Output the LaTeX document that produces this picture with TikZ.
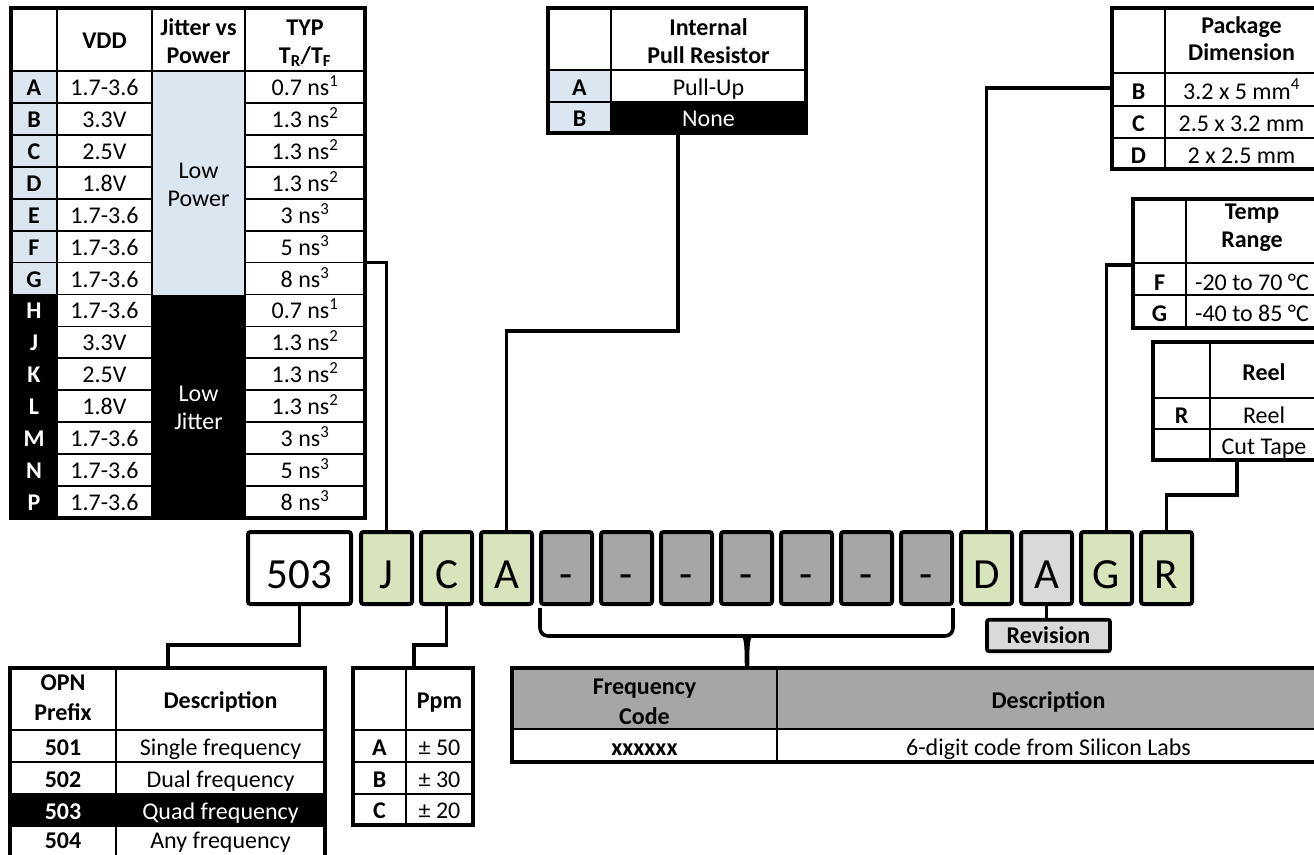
\documentclass[tikz,border=0pt]{standalone}
\usepackage{fontspec}
\setmainfont{Carlito}
\definecolor{lblue}{HTML}{DCE6F1}
\definecolor{lgreen}{HTML}{D8E4BC}
\definecolor{dgray}{HTML}{A6A6A6}
\definecolor{lgray}{HTML}{D9D9D9}
\begin{document}
\begin{tikzpicture}[x=1pt,y=-1pt,
 inl/.style={line width=1.8pt},
 outl/.style={line width=3.4pt},
 txt/.style={font=\fontsize{24}{28}\selectfont, inner sep=0pt, anchor=base},
 btxt/.style={font=\fontsize{24}{28}\selectfont\bfseries, inner sep=0pt, anchor=base},
 wtxt/.style={txt, text=white},
 wbtxt/.style={btxt, text=white},
 pbox/.style={draw, line width=4pt, rounded corners=2.5pt, minimum width=51pt, minimum height=72pt, inner sep=0pt, text height=40pt, text depth=0pt, font=\fontsize{43}{48}\selectfont},
 conn/.style={line width=3.6pt},
]
\clip (0,0) rectangle (1314,854);
\fill[white] (0,0) rectangle (1314,854);

% ---------- Table 1: VDD ----------
\fill[lblue] (11,71) rectangle (57,294.5);
\fill[black] (11,294.5) rectangle (57,518);
\fill[lblue] (152,71) rectangle (245,294.5);
\fill[black] (152,294.5) rectangle (245,518);
\foreach \k in {1,...,13}{
  \draw[inl] (11,{71+\k*31.93}) -- (152,{71+\k*31.93}) (245,{71+\k*31.93}) -- (365,{71+\k*31.93});
}
\draw[inl] (11,71) -- (365,71) (57,8) -- (57,518) (152,8) -- (152,518) (245,8) -- (245,518);
\draw[outl] (11,8) rectangle (365,518);
\node[btxt] (h1v) at (104.5,48) {VDD};
\node[btxt] (h1ja) at (198.5,35) {Jitter vs};
\node[btxt] (h1jb) at (198.5,63) {Power};
\node[btxt] (h1ta) at (305,35) {TYP};
\node[btxt] (h1tb) at (305,63) {T\textsubscript{R}/T\textsubscript{F}};
\foreach \lab/\vdd/\tr [count=\i from 0] in {
 A/1.7-3.6/0.7 ns\textsuperscript{1}, B/3.3V/1.3 ns\textsuperscript{2}, C/2.5V/1.3 ns\textsuperscript{2},
 D/1.8V/1.3 ns\textsuperscript{2}, E/1.7-3.6/3 ns\textsuperscript{3}, F/1.7-3.6/5 ns\textsuperscript{3},
 G/1.7-3.6/8 ns\textsuperscript{3}, H/1.7-3.6/0.7 ns\textsuperscript{1}, J/3.3V/1.3 ns\textsuperscript{2},
 K/2.5V/1.3 ns\textsuperscript{2}, L/1.8V/1.3 ns\textsuperscript{2}, M/1.7-3.6/3 ns\textsuperscript{3},
 N/1.7-3.6/5 ns\textsuperscript{3}, P/1.7-3.6/8 ns\textsuperscript{3}}{
  \pgfmathsetmacro\yb{71+(\i+0.5)*31.93+8.5}
  \node[btxt] (t1l\i) at (34,\yb) {\ifnum\i>6\color{white}\fi\lab};
  \node[txt] (t1v\i) at (104.5,\yb) {\vdd};
  \node[txt] (t1t\i) at (305,\yb) {\tr};
}
\node[txt] (lpa) at (198.5,178) {Low};
\node[txt] (lpb) at (198.5,206) {Power};
\node[wtxt] (lja) at (198.5,401) {Low};
\node[wtxt] (ljb) at (198.5,429) {Jitter};

% ---------- Table 2: Pull resistor ----------
\fill[lblue] (548,70) rectangle (611,133);
\fill[black] (611,102) rectangle (806,133);
\draw[inl] (611,8) -- (611,133) (548,70) -- (806,70) (548,102) -- (806,102);
\draw[outl] (548,8) rectangle (806,133);
\node[btxt] (h2a) at (708.5,35) {Internal};
\node[btxt] (h2b) at (708.5,63) {Pull Resistor};
\node[btxt] (t2l1) at (579.5,95) {A};
\node[txt] (t2v1) at (708.5,95) {Pull-Up};
\node[btxt] (t2l2) at (579.5,126) {B};
\node[wtxt] (t2v2) at (708.5,126) {None};

% ---------- Table 3: Package ----------
\draw[inl] (1165,8) -- (1165,169) (1112,73) -- (1318,73) (1112,106) -- (1318,106) (1112,138) -- (1318,138);
\draw[outl] (1112,8) rectangle (1318,169);
\node[btxt] (h3a) at (1241.5,33) {Package};
\node[btxt] (h3b) at (1241.5,60) {Dimension};
\node[btxt] (t3l1) at (1138.5,99) {B};
\node[txt] (t3v1) at (1241.5,99) {3.2 x 5 mm\textsuperscript{4}};
\node[btxt] (t3l2) at (1138.5,131.5) {C};
\node[txt] (t3v2) at (1241.5,131.5) {2.5 x 3.2 mm};
\node[btxt] (t3l3) at (1138.5,163) {D};
\node[txt] (t3v3) at (1241.5,163) {2 x 2.5 mm};

% ---------- Table 4: Temp ----------
\fill[white] (1133,199) rectangle (1318,328);
\draw[inl] (1186,199) -- (1186,328) (1133,263) -- (1318,263) (1133,295) -- (1318,295);
\draw[outl] (1133,199) rectangle (1318,328);
\node[btxt] (h4a) at (1252,219) {Temp};
\node[btxt] (h4b) at (1252,247) {Range};
\node[btxt] (t4l1) at (1159.5,290) {F};
\node[txt] (t4v1) at (1252,290) {-20 to 70 °C};
\node[btxt] (t4l2) at (1159.5,321) {G};
\node[txt] (t4v2) at (1252,321) {-40 to 85 °C};

% ---------- Table 5: Reel ----------
\draw[inl] (1210,342) -- (1210,460) (1153,398) -- (1318,398) (1153,429) -- (1318,429);
\draw[outl] (1153,342) rectangle (1318,460);
\node[btxt] (h5) at (1264,380) {Reel};
\node[btxt] (t5l1) at (1181.5,423) {R};
\node[txt] (t5v1) at (1264,423) {Reel};
\node[txt] (t5v2) at (1264,454) {Cut Tape};

% ---------- Table 6: OPN ----------
\fill[black] (10,794) rectangle (325,826);
\draw[inl] (116,668) -- (116,858) (10,730) -- (325,730) (10,762) -- (325,762) (10,794) -- (325,794) (10,826) -- (325,826);
\draw[outl] (10,668) rectangle (325,858);
\node[btxt] (h6a) at (63,690) {OPN};
\node[btxt] (h6b) at (63,720) {Prefix};
\node[btxt] (h6c) at (220.5,708) {Description};
\node[btxt] (t6l1) at (63,755.5) {501};
\node[txt] (t6v1) at (220.5,755.5) {Single frequency};
\node[btxt] (t6l2) at (63,787.5) {502};
\node[txt] (t6v2) at (220.5,787.5) {Dual frequency};
\node[wbtxt] (t6l3) at (63,819.5) {503};
\node[wtxt] (t6v3) at (220.5,819.5) {Quad frequency};
\node[btxt] (t6l4) at (63,848) {504};
\node[txt] (t6v4) at (220.5,848) {Any frequency};

% ---------- Table 7: Ppm ----------
\draw[inl] (406,668) -- (406,825) (353,730) -- (473,730) (353,762) -- (473,762) (353,794) -- (473,794);
\draw[outl] (353,668) rectangle (473,825);
\node[btxt] (h7) at (439.5,708) {Ppm};
\node[btxt] (t7l1) at (379.5,755) {A};
\node[txt] (t7v1) at (439.5,755) {± 50};
\node[btxt] (t7l2) at (379.5,787) {B};
\node[txt] (t7v2) at (439.5,787) {± 30};
\node[btxt] (t7l3) at (379.5,818.5) {C};
\node[txt] (t7v3) at (439.5,818.5) {± 20};

% ---------- Table 8: Frequency code ----------
\fill[dgray] (512,668) rectangle (1320,729);
\draw[inl] (777,668) -- (777,762) (512,729) -- (1320,729);
\draw[outl] (512,668) rectangle (1320,762);
\node[btxt] (h8a) at (644.5,694) {Frequency};
\node[btxt] (h8b) at (644.5,724) {Code};
\node[btxt] (h8c) at (1048.5,708) {Description};
\node[btxt] (t8l1) at (644.5,755) {xxxxxx};
\node[txt] (t8v1) at (1048.5,755) {6-digit code from Silicon Labs};

% ---------- Part number boxes ----------
\node[pbox, fill=white, minimum width=103pt] (b503) at (299.5,568) {503};
\foreach \n/\t/\c [count=\j from 0] in {J/J/lgreen, C/C/lgreen, A/A/lgreen,
  d1/-/dgray, d2/-/dgray, d3/-/dgray, d4/-/dgray, d5/-/dgray, d6/-/dgray, d7/-/dgray,
  D/D/lgreen, Ar/A/lgray, G/G/lgreen, R/R/lgreen}{
  \node[pbox, fill=\c] (b\n) at ({386.5+60*\j},568) {\t};
}

% ---------- Revision ----------
\node[draw, line width=3.6pt, fill=lgray, rounded corners=2pt, minimum width=123pt, minimum height=31.5pt, inner sep=0pt, font=\fontsize{24}{28}\selectfont\bfseries] (rev) at (1048.5,635.5) {Revision};

% ---------- Connectors ----------
\coordinate (p1) at (365,262.6);
\draw[conn] (p1) -| (bJ.north);
\coordinate (p2) at (678,133);
\draw[conn] (p2) -- (678,331) -| (bA.north);
\coordinate (p3) at (1112,88);
\draw[conn] (p3) -| (bD.north);
\coordinate (p4) at (1133,265);
\draw[conn] (p4) -| (bG.north);
\coordinate (p5) at (1237,460);
\draw[conn] (p5) -- (1237,495) -| (bR.north);
\coordinate (p6) at (168,668);
\draw[conn] (b503.south) -- (299.5,645) -| (p6);
\coordinate (p7) at (414,668);
\draw[conn] (bC.south) -- (446.5,645) -| (p7);
\draw[conn] (bAr.south) -- (bAr.south |- rev.north);

% ---------- Brace ----------
\coordinate (brL) at (540,608);
\coordinate (brR) at (953,608);
\coordinate (brT) at (747,668);
\draw[conn, rounded corners=8pt] (brL) -- (540,636) -- (752,636);
\draw[conn, rounded corners=8pt] (brR) -- (953,636) -- (742,636);
\fill (739,634) .. controls (745,636) and (744.5,646) .. (744.8,668) -- (749.2,668) .. controls (749.5,646) and (749,636) .. (755,634) -- cycle;
\end{tikzpicture}
\end{document}
